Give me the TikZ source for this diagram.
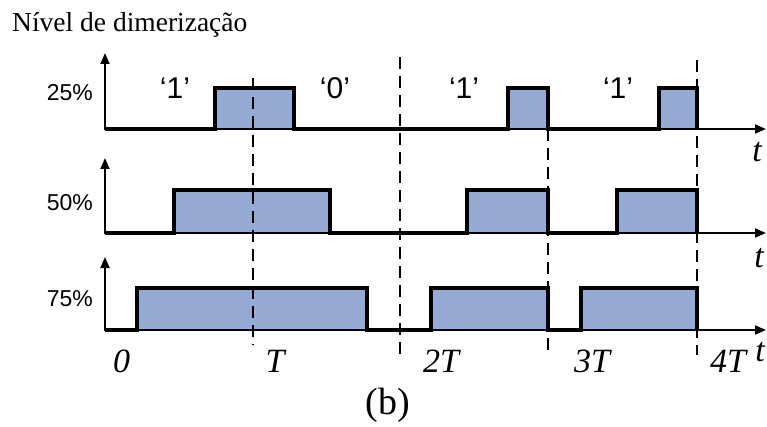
\documentclass[tikz,border=0pt]{standalone}
\usepackage{fontspec}
\setmainfont{Liberation Serif}
\newfontfamily\arialfont{Liberation Sans}
\usetikzlibrary{arrows.meta}
\definecolor{pulsefill}{RGB}{150,170,214}

\tikzset{
  axisline/.style={line width=1.8pt,line join=miter,{Triangle[length=11pt,width=9pt]}-{Triangle[length=11pt,width=9pt]}},
  sigline/.style={line width=3.8pt,line join=miter},
  period/.style={line width=1.6pt,dash pattern=on 12pt off 7pt},
  pctlabel/.style={font=\arialfont\fontsize{23}{23}\selectfont,anchor=base east,inner sep=0pt},
  bit/.style={font=\arialfont\fontsize{30}{30}\selectfont,anchor=base,inner sep=0pt},
  tlabel/.style={font=\itshape\fontsize{34}{34}\selectfont,anchor=base,inner sep=0pt},
}

\begin{document}
\begin{tikzpicture}[x=1pt,y=-1pt]
\useasboundingbox (0,0) rectangle (767,427);
% pulses
\foreach \a/\b in {215/294, 508/548, 659/697} \fill[pulsefill] (\a,129) rectangle (\b,88);
\foreach \a/\b in {174/330, 467/548, 617/697} \fill[pulsefill] (\a,233) rectangle (\b,190);
\foreach \a/\b in {137/367, 431/548, 581/697} \fill[pulsefill] (\a,330) rectangle (\b,288);
% periods
\foreach \x/\ya/\yb in {253/78/345, 400/57/358, 548/129/355, 697/60/355}
  \draw[period] (\x,\ya) -- (\x,\yb);
% axes
\foreach \yb/\yt in {129/53, 233/158, 330/257}
  \draw[axisline] (105,\yt) -- (105,\yb) -- (766,\yb);
% signals
\draw[sigline] (105,129) -| (215,88) -| (294,129) -| (508,88) -| (548,129) -| (659,88) -| (697,129);
\draw[sigline] (105,233) -| (174,190) -| (330,233) -| (467,190) -| (548,233) -| (617,190) -| (697,233);
\draw[sigline] (105,330) -| (137,288) -| (367,330) -| (431,288) -| (548,330) -| (581,288) -| (697,330);
% labels
\node[anchor=base west,inner sep=0pt,font=\fontsize{27.5}{30}\selectfont] (title) at (12,32) {Nível de dimerização};
\node[pctlabel] (p25) at (93,101) {25\%};
\node[pctlabel] (p50) at (93,211) {50\%};
\node[pctlabel] (p75) at (93,306) {75\%};
\node[bit] (bit1) at (175,99) {‘1’};
\node[bit] (bit2) at (335,99) {‘0’};
\node[bit] (bit3) at (464,99) {‘1’};
\node[bit] (bit4) at (618,99) {‘1’};
\node[tlabel] (t1) at (757,162) {t};
\node[tlabel] (t2) at (759,267) {t};
\node[tlabel] (t3) at (760,361) {t};
\node[tlabel] (l0) at (121.5,372) {0};
\node[tlabel] (l1) at (275,372) {T};
\node[tlabel] (l2) at (441,372) {2T};
\node[tlabel] (l3) at (592,372) {3T};
\node[tlabel] (l4) at (728,372) {4T};
\node[anchor=base,inner sep=0pt,font=\fontsize{38}{40}\selectfont] (cap) at (387.5,414) {(b)};
\end{tikzpicture}
\end{document}
